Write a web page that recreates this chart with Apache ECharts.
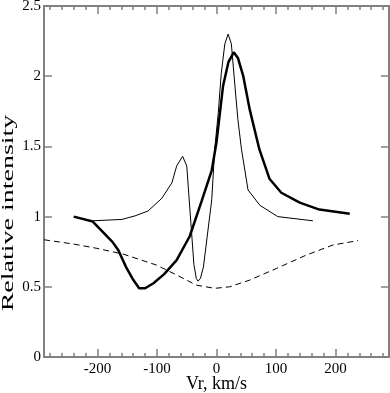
<!DOCTYPE html>
<html>
<head>
<meta charset="utf-8">
<script src="https://cdn.jsdelivr.net/npm/echarts@6/dist/echarts.min.js"></script>
<style>
html, body { margin: 0; padding: 0; background: #fff; }
#chart1 { width: 390px; height: 393px; }
</style>
</head>
<body>
<div id="chart1"></div>
<script>
// 数据
var thickX = [-240, -208, -175, -165, -152, -140, -130, -120, -106, -88, -67, -45, -25, -8, 0, 11, 20, 29, 36, 45, 56, 72, 89, 109, 140, 173, 224];
var thickY = [1.0, 0.965, 0.82, 0.76, 0.64, 0.55, 0.49, 0.49, 0.525, 0.59, 0.69, 0.86, 1.11, 1.33, 1.53, 1.93, 2.1, 2.17, 2.13, 2.0, 1.76, 1.48, 1.27, 1.17, 1.10, 1.05, 1.02];

var thinX = [-208, -159, -137, -115, -92, -75, -67, -57, -50, -43, -38, -34, -31, -27, -22, -8, -3, 3, 8, 14, 19.5, 25, 31, 36, 42, 53, 73, 103, 162];
var thinY = [0.97, 0.98, 1.005, 1.04, 1.13, 1.24, 1.36, 1.43, 1.36, 0.95, 0.66, 0.56, 0.54, 0.56, 0.64, 1.12, 1.48, 1.74, 2.02, 2.23, 2.3, 2.23, 1.93, 1.69, 1.48, 1.19, 1.08, 1.0, 0.97];

var dashX = [-290, -241, -201, -157, -101, -67, -34, -3, 22, 56, 101, 151, 196, 238];
var dashY = [0.835, 0.805, 0.774, 0.733, 0.655, 0.584, 0.512, 0.489, 0.5, 0.548, 0.631, 0.726, 0.798, 0.829];

var xMajor = [-200, -100, 0, 100, 200];
var xMinor = [-280, -260, -240, -220, -180, -160, -140, -120, -80, -60, -40, -20, 20, 40, 60, 80, 120, 140, 160, 180, 220, 240, 260, 280];

var xTitle = 'Vr, km/s';
var yTitle = 'Relative intensity';

function pairs(xs, ys) {
    return xs.map(function (x, i) { return [x, ys[i]]; });
}

var font = 'Liberation Serif';
var axisGray = '#808080';

function xAxisDef(pos, ticks, len, showLabel, showLine, name) {
    return {
        type: 'value',
        position: pos,
        min: -290,
        max: 290,
        name: name || '',
        nameLocation: 'middle',
        nameGap: 18,
        nameMoveOverlap: false,
        nameTextStyle: { fontFamily: font, fontSize: 18, color: '#000' },
        axisLine: { show: showLine, onZero: false, lineStyle: { color: axisGray, width: 2 } },
        axisTick: { show: true, inside: true, length: len, customValues: ticks, lineStyle: { color: axisGray, width: 1.5 } },
        axisLabel: { show: showLabel, customValues: xMajor, fontFamily: font, fontSize: 15, color: '#000', margin: 5 },
        splitLine: { show: false }
    };
}

function yAxisDef(pos, showLabel) {
    return {
        type: 'value',
        position: pos,
        min: 0,
        max: 2.5,
        interval: 0.5,
        axisLine: { show: true, onZero: false, lineStyle: { color: axisGray, width: 2 } },
        axisTick: { show: true, inside: true, length: 8, lineStyle: { color: axisGray, width: 1.5 } },
        axisLabel: { show: showLabel, fontFamily: font, fontSize: 15, color: '#000', margin: 3 },
        splitLine: { show: false }
    };
}

var option = {
    animation: false,
    grid: { left: 44, right: 1, top: 6, bottom: 36, containLabel: false, outerBoundsMode: 'none' },
    // 纵轴标题（原图中字被横向拉长）
    graphic: [
        {
            type: 'text',
            x: 9,
            y: 213,
            rotation: Math.PI / 2,
            scaleX: 1.75,
            style: {
                text: yTitle,
                fontFamily: font,
                fontSize: 16,
                fill: '#000',
                align: 'center',
                verticalAlign: 'middle'
            }
        }
    ],
    xAxis: [
        xAxisDef('bottom', xMajor, 8, true, true, xTitle),
        xAxisDef('bottom', xMinor, 4, false, false),
        xAxisDef('top', xMajor, 8, false, true),
        xAxisDef('top', xMinor, 4, false, false)
    ],
    yAxis: [
        yAxisDef('left', true),
        yAxisDef('right', false)
    ],
    series: [
        {
            type: 'line',
            data: pairs(dashX, dashY),
            symbol: 'none',
            lineStyle: { color: '#000', width: 1, type: [6, 4] }
        },
        {
            type: 'line',
            data: pairs(thinX, thinY),
            symbol: 'none',
            lineStyle: { color: '#000', width: 1 }
        },
        {
            type: 'line',
            data: pairs(thickX, thickY),
            symbol: 'none',
            lineStyle: { color: '#000', width: 2.5 }
        }
    ]
};

var chart1 = echarts.init(document.getElementById('chart1'));
chart1.setOption(option);
</script>
</body>
</html>
